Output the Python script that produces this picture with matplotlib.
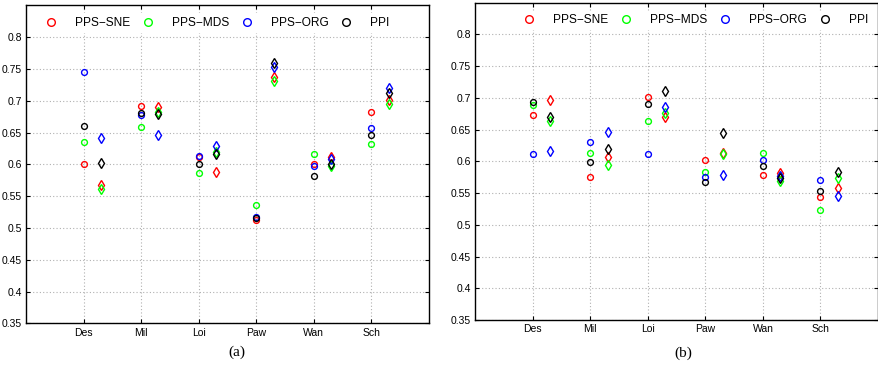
#Scatter comparison of PPS variants and PPI over six datasets, two panels

import matplotlib
matplotlib.use("Agg")
import matplotlib.pyplot as plt
from matplotlib.lines import Line2D

plt.rcParams['font.family'] = ['Liberation Sans', 'DejaVu Sans']

#Categories on the x axis
categories = ["Des", "Mil", "Loi", "Paw", "Wan", "Sch"]
methods = ["PPS\u2212SNE", "PPS\u2212MDS", "PPS\u2212ORG", "PPI"]
colors = ["#ff0000", "#00ff00", "#0000ff", "#000000"]
yticks = [0.35, 0.4, 0.45, 0.5, 0.55, 0.6, 0.65, 0.7, 0.75, 0.8]

#Panel (a): circle values (first setting) and diamond values (second setting)
sne_a_o = [0.600, 0.692, 0.611, 0.512, 0.601, 0.683]
mds_a_o = [0.635, 0.659, 0.587, 0.536, 0.617, 0.632]
org_a_o = [0.745, 0.678, 0.614, 0.518, 0.597, 0.658]
ppi_a_o = [0.661, 0.681, 0.600, 0.515, 0.582, 0.647]

sne_a_d = [0.567, 0.691, 0.588, 0.737, 0.612, 0.702]
mds_a_d = [0.562, 0.683, 0.619, 0.731, 0.598, 0.695]
org_a_d = [0.642, 0.647, 0.629, 0.753, 0.609, 0.720]
ppi_a_d = [0.603, 0.680, 0.616, 0.760, 0.601, 0.712]

#Panel (b)
sne_b_o = [0.673, 0.576, 0.701, 0.602, 0.579, 0.544]
mds_b_o = [0.689, 0.613, 0.663, 0.583, 0.613, 0.523]
org_b_o = [0.612, 0.631, 0.611, 0.575, 0.602, 0.571]
ppi_b_o = [0.694, 0.599, 0.691, 0.568, 0.592, 0.553]

sne_b_d = [0.696, 0.607, 0.670, 0.613, 0.582, 0.558]
mds_b_d = [0.664, 0.594, 0.676, 0.611, 0.569, 0.574]
org_b_d = [0.616, 0.646, 0.686, 0.579, 0.577, 0.545]
ppi_b_d = [0.670, 0.619, 0.711, 0.645, 0.574, 0.583]

panel_a = ([sne_a_o, mds_a_o, org_a_o, ppi_a_o], [sne_a_d, mds_a_d, org_a_d, ppi_a_d])
panel_b = ([sne_b_o, mds_b_o, org_b_o, ppi_b_o], [sne_b_d, mds_b_d, org_b_d, ppi_b_d])

fig = plt.figure(figsize=(8.79, 3.65), dpi=100)
ax_a = fig.add_axes([0.0296, 0.114, 0.4584, 0.871])
ax_b = fig.add_axes([0.5407, 0.123, 0.4582, 0.8697])

x = list(range(1, len(categories) + 1))
x_d = [v + 0.3 for v in x] #Diamonds drawn slightly to the right

def draw_panel(ax, panel, legend_anchor):
    circles, diamonds = panel
    for vals, c in zip(circles, colors):
        ax.plot(x, vals, linestyle="none", marker="o", markersize=4.2,
                markerfacecolor="none", markeredgecolor=c, markeredgewidth=1.0, zorder=3)
    for vals, c in zip(diamonds, colors):
        ax.plot(x_d, vals, linestyle="none", marker="d", markersize=5,
                markerfacecolor="none", markeredgecolor=c, markeredgewidth=1.0, zorder=3)

    ax.set_xlim(0, 7)
    ax.set_ylim(0.35, 0.85)
    ax.set_xticks(x)
    ax.set_xticklabels(categories)
    ax.set_yticks(yticks)
    ax.set_yticklabels(["%g" % t for t in yticks])
    ax.tick_params(direction="in", top=True, right=True, length=3, width=0.8,
                   labelsize=7.5, pad=3, colors="black")
    ax.grid(True, linestyle=(0, (1, 2)), color="#b0b0b0", linewidth=0.8)
    ax.set_axisbelow(True)
    for sp in ax.spines.values():
        sp.set_linewidth(1.0)

    #Legend, circles only, one row
    handles = [Line2D([], [], linestyle="none", marker="o", markersize=5.5,
                      markerfacecolor="none", markeredgecolor=c, markeredgewidth=1.0)
               for c in colors]
    leg = ax.legend(handles, methods, ncol=4, loc="center left", bbox_to_anchor=legend_anchor,
                    fontsize=8.6, frameon=True, handlelength=1.0, handletextpad=1.5,
                    columnspacing=1.0, borderpad=0.3, borderaxespad=0)
    leg.get_frame().set_edgecolor("none")
    leg.get_frame().set_facecolor("white")
    leg.get_frame().set_alpha(1.0)

draw_panel(ax_a, panel_a, (0.038, 0.945))
draw_panel(ax_b, panel_b, (0.11, 0.945))

#Sub-captions
fig.text(237 / 879, 1 - 352 / 365, "(a)", ha="center", va="center",
         fontsize=11, family=["Liberation Serif", "DejaVu Serif"])
fig.text(683 / 879, 1 - 353 / 365, "(b)", ha="center", va="center",
         fontsize=11, family=["Liberation Serif", "DejaVu Serif"])

plt.savefig("out.png", dpi=100)
plt.close(fig)
